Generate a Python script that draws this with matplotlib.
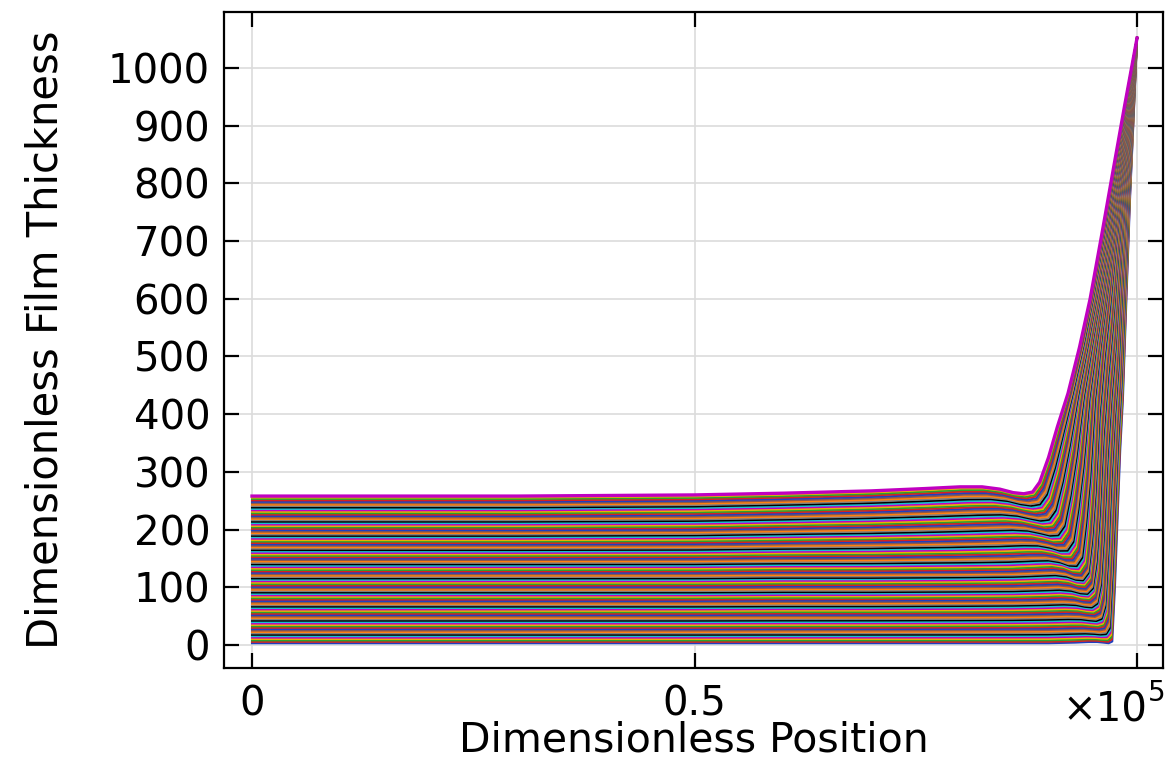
import numpy as np
import matplotlib.pyplot as plt

# Perfiles (posición en unidades de 1e5)
# curva inferior (nivel ~3), curva media (~130) y curva superior (~258)
x_bot = np.array([0, 0.3, 0.5, 0.6, 0.7, 0.8, 0.86, 0.9, 0.93, 0.945, 0.955,
                  0.962, 0.968, 0.972, 0.975, 0.978, 0.981, 0.984, 0.988, 0.992, 0.996, 1.0])
y_bot = np.array([3, 3, 3, 3, 3, 3, 3, 3, 4, 5, 5,
                  4, 3, 6, 100, 220, 338, 425, 600, 771, 910, 1052])

x_mid = np.array([0, 0.3, 0.5, 0.6, 0.7, 0.8, 0.86, 0.89, 0.905, 0.918, 0.928,
                  0.936, 0.942, 0.946, 0.95, 0.955, 0.961, 0.967, 0.973, 0.98, 0.99, 1.0])
y_mid = np.array([130, 130, 130, 131, 131, 132, 133, 135, 136, 133, 127,
                  126, 140, 200, 280, 425, 520, 600, 680, 771, 910, 1052])

x_top = np.array([0, 0.3, 0.5, 0.6, 0.7, 0.76, 0.8, 0.825, 0.845, 0.86, 0.872,
                  0.882, 0.89, 0.9, 0.91, 0.922, 0.935, 0.947, 0.96, 0.973, 0.986, 1.0])
y_top = np.array([258, 258, 260, 263, 267, 271, 274, 274, 270, 264, 262,
                  265, 282, 325, 378, 436, 516, 600, 710, 823, 935, 1052])

# unas 105 curvas, de la inferior a la superior
n_curves = 105
colors = ['#1f3fbf', '#d62020', '#2ca02c', '#e8b000', '#c000c0',
          '#17bfcf', '#000000', '#7f7f7f', '#ff7f0e', '#8c564b']

fig = plt.figure(figsize=(11.76, 7.61), dpi=100)
ax = fig.add_axes([0.1905, 0.1222, 0.7985, 0.862])

for k in range(n_curves):
    f = k / (n_curves - 1)
    if f <= 0.5:
        t = f / 0.5
        xs = (1 - t) * x_bot + t * x_mid
        ys = (1 - t) * y_bot + t * y_mid
    else:
        t = (f - 0.5) / 0.5
        xs = (1 - t) * x_mid + t * x_top
        ys = (1 - t) * y_mid + t * y_top
    lw = 2.4 if k == n_curves - 1 else 1.5
    ax.plot(xs, ys, color=colors[k % len(colors)], lw=lw, zorder=2)

ax.set_xlim(-0.0316, 1.0294)
ax.set_ylim(-40, 1097)
ax.set_xticks([0, 0.5, 1.0])
ax.set_xticklabels(['0', '0.5', ''])
ax.set_yticks(np.arange(0, 1001, 100))
ax.grid(True, color='#dcdcdc', lw=1.2, zorder=0)
ax.set_axisbelow(True)

for s in ax.spines.values():
    s.set_linewidth(1.6)

ax.tick_params(direction='in', length=11, width=1.6, top=True, right=True,
               labelsize=29)
ax.tick_params(axis='x', pad=12)
ax.tick_params(axis='y', pad=10)

# multiplicador del eje x
ax.text(1147 / 1176, 1 - 721 / 761, '×10', transform=fig.transFigure,
        ha='right', va='baseline', fontsize=29)
ax.text(1148 / 1176, 1 - 679 / 761, '5', transform=fig.transFigure,
        ha='left', va='top', fontsize=20)

ax.set_xlabel("Dimensionless Position", fontsize=29.5, labelpad=-3)
ax.set_ylabel("Dimensionless Film Thickness", fontsize=30, labelpad=30)

fig.savefig("out.png", dpi=100)
